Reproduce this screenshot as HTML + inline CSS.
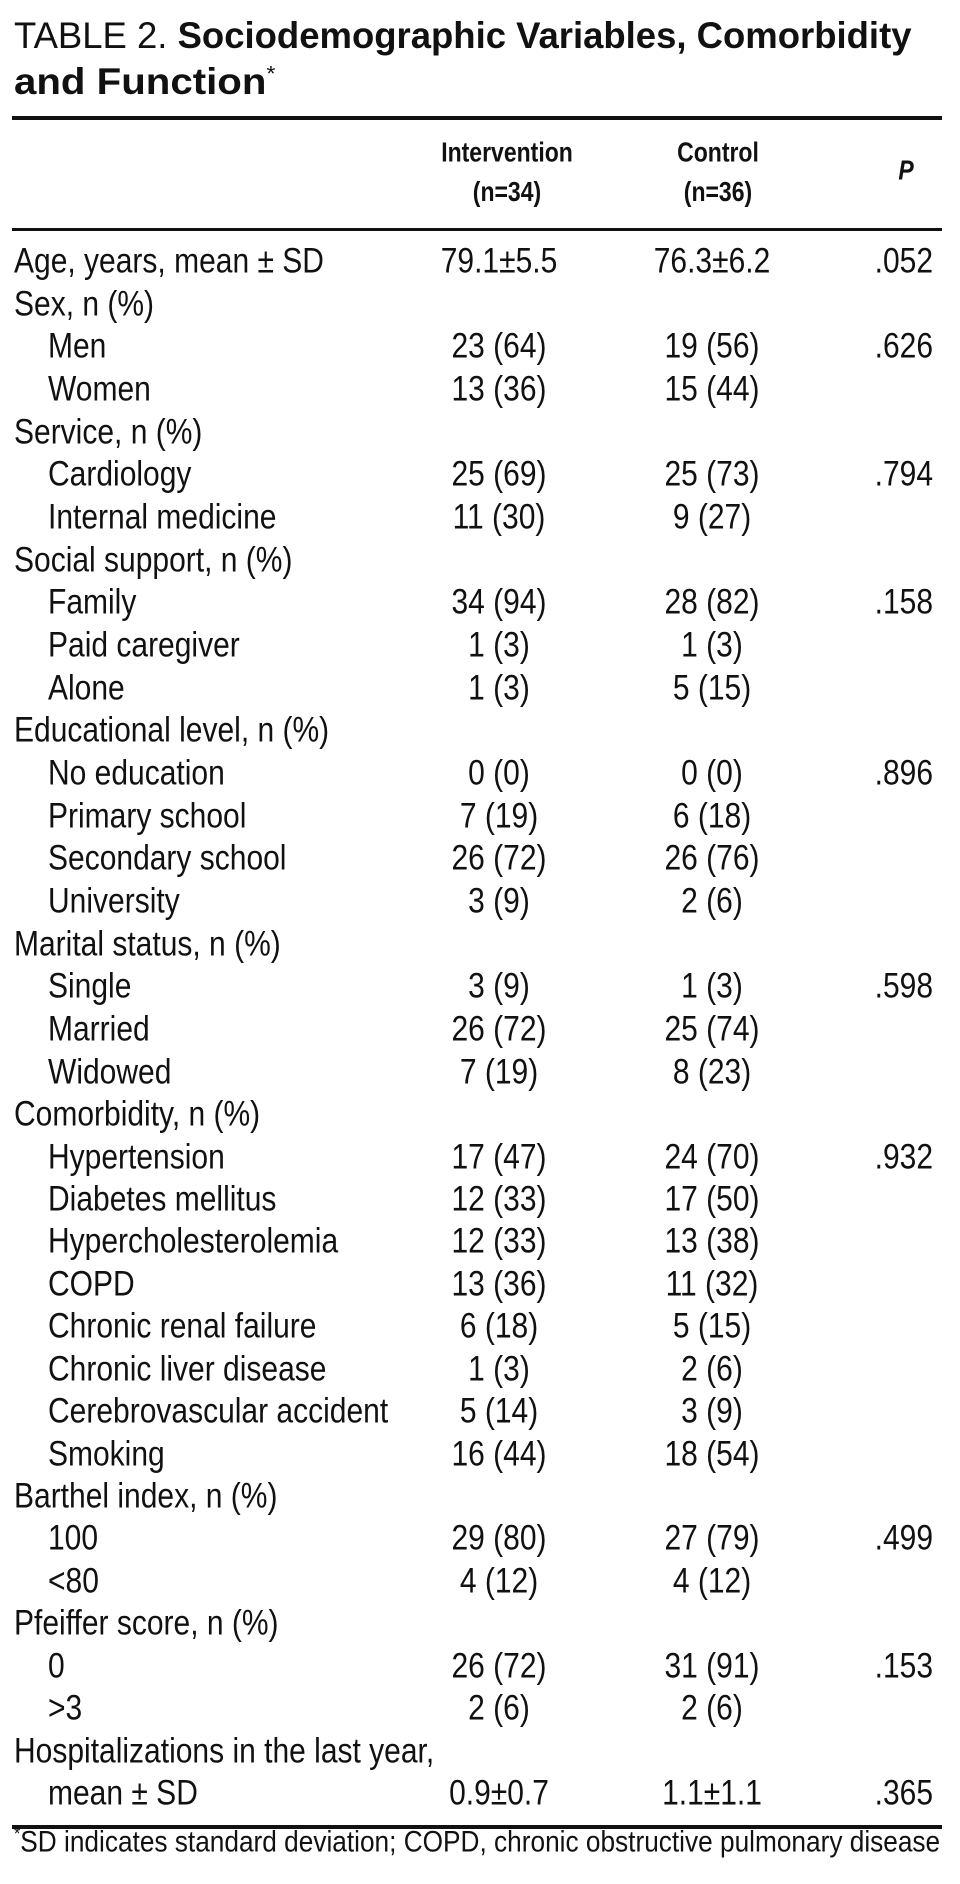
<!DOCTYPE html>
<html><head><meta charset="utf-8">
<style>
html,body{margin:0;padding:0;background:#fff;}
body{width:960px;height:1884px;position:relative;overflow:hidden;font-family:"Liberation Sans",sans-serif;color:#111;}
.t{position:absolute;left:14px;font-size:31px;white-space:nowrap;line-height:44px;transform-origin:left center;}
.rule{position:absolute;left:12px;width:930px;background:#111;}
.row{position:absolute;left:0;width:960px;height:42px;line-height:42px;font-size:30px;}
.row span{position:absolute;white-space:nowrap;display:inline-block;transform:scaleY(1.18);}
.l{left:14px;}
.l.i{left:48px;}
.a{left:399px;width:200px;text-align:center;}
.b{left:612px;width:200px;text-align:center;}
.p{right:27px;text-align:right;}
.h{position:absolute;font-weight:bold;font-size:23px;text-align:center;width:200px;transform:scaleY(1.2);}
.fn{position:absolute;left:14px;top:1826px;font-size:26px;white-space:nowrap;transform-origin:left center;transform:scaleY(1.15);}
</style></head><body>
<div class="t" style="top:14px" id="t1">TABLE 2. <b>Sociodemographic Variables, Comorbidity</b></div>
<div class="t" style="top:52px" id="t2"><b>and Function</b><sup style="font-size:18px">*</sup></div>
<div class="rule" style="top:116px;height:4px"></div>
<div class="h" style="left:407px;top:143px;line-height:26px">Intervention<br><span style="line-height:40px">(n=34)</span></div>
<div class="h" style="left:618px;top:143px;line-height:26px">Control<br><span style="line-height:40px">(n=36)</span></div>
<div class="h" style="left:806px;top:157px;font-style:italic">P</div>
<div class="rule" style="top:228px;height:3px"></div>

<div class="row" style="top:241px"><span class="l">Age, years, mean ± SD</span><span class="a">79.1±5.5</span><span class="b">76.3±6.2</span><span class="p">.052</span></div>
<div class="row" style="top:284px"><span class="l">Sex, n (%)</span></div>
<div class="row" style="top:326px"><span class="l i">Men</span><span class="a">23 (64)</span><span class="b">19 (56)</span><span class="p">.626</span></div>
<div class="row" style="top:369px"><span class="l i">Women</span><span class="a">13 (36)</span><span class="b">15 (44)</span></div>
<div class="row" style="top:412px"><span class="l">Service, n (%)</span></div>
<div class="row" style="top:454px"><span class="l i">Cardiology</span><span class="a">25 (69)</span><span class="b">25 (73)</span><span class="p">.794</span></div>
<div class="row" style="top:497px"><span class="l i">Internal medicine</span><span class="a">11 (30)</span><span class="b">9 (27)</span></div>
<div class="row" style="top:540px"><span class="l">Social support, n (%)</span></div>
<div class="row" style="top:582px"><span class="l i">Family</span><span class="a">34 (94)</span><span class="b">28 (82)</span><span class="p">.158</span></div>
<div class="row" style="top:625px"><span class="l i">Paid caregiver</span><span class="a">1 (3)</span><span class="b">1 (3)</span></div>
<div class="row" style="top:668px"><span class="l i">Alone</span><span class="a">1 (3)</span><span class="b">5 (15)</span></div>
<div class="row" style="top:710px"><span class="l">Educational level, n (%)</span></div>
<div class="row" style="top:753px"><span class="l i">No education</span><span class="a">0 (0)</span><span class="b">0 (0)</span><span class="p">.896</span></div>
<div class="row" style="top:796px"><span class="l i">Primary school</span><span class="a">7 (19)</span><span class="b">6 (18)</span></div>
<div class="row" style="top:838px"><span class="l i">Secondary school</span><span class="a">26 (72)</span><span class="b">26 (76)</span></div>
<div class="row" style="top:881px"><span class="l i">University</span><span class="a">3 (9)</span><span class="b">2 (6)</span></div>
<div class="row" style="top:924px"><span class="l">Marital status, n (%)</span></div>
<div class="row" style="top:966px"><span class="l i">Single</span><span class="a">3 (9)</span><span class="b">1 (3)</span><span class="p">.598</span></div>
<div class="row" style="top:1009px"><span class="l i">Married</span><span class="a">26 (72)</span><span class="b">25 (74)</span></div>
<div class="row" style="top:1052px"><span class="l i">Widowed</span><span class="a">7 (19)</span><span class="b">8 (23)</span></div>
<div class="row" style="top:1094px"><span class="l">Comorbidity, n (%)</span></div>
<div class="row" style="top:1137px"><span class="l i">Hypertension</span><span class="a">17 (47)</span><span class="b">24 (70)</span><span class="p">.932</span></div>
<div class="row" style="top:1179px"><span class="l i">Diabetes mellitus</span><span class="a">12 (33)</span><span class="b">17 (50)</span></div>
<div class="row" style="top:1221px"><span class="l i">Hypercholesterolemia</span><span class="a">12 (33)</span><span class="b">13 (38)</span></div>
<div class="row" style="top:1264px"><span class="l i">COPD</span><span class="a">13 (36)</span><span class="b">11 (32)</span></div>
<div class="row" style="top:1306px"><span class="l i">Chronic renal failure</span><span class="a">6 (18)</span><span class="b">5 (15)</span></div>
<div class="row" style="top:1349px"><span class="l i">Chronic liver disease</span><span class="a">1 (3)</span><span class="b">2 (6)</span></div>
<div class="row" style="top:1391px"><span class="l i">Cerebrovascular accident</span><span class="a">5 (14)</span><span class="b">3 (9)</span></div>
<div class="row" style="top:1434px"><span class="l i">Smoking</span><span class="a">16 (44)</span><span class="b">18 (54)</span></div>
<div class="row" style="top:1476px"><span class="l">Barthel index, n (%)</span></div>
<div class="row" style="top:1518px"><span class="l i">100</span><span class="a">29 (80)</span><span class="b">27 (79)</span><span class="p">.499</span></div>
<div class="row" style="top:1561px"><span class="l i">&lt;80</span><span class="a">4 (12)</span><span class="b">4 (12)</span></div>
<div class="row" style="top:1603px"><span class="l">Pfeiffer score, n (%)</span></div>
<div class="row" style="top:1646px"><span class="l i">0</span><span class="a">26 (72)</span><span class="b">31 (91)</span><span class="p">.153</span></div>
<div class="row" style="top:1688px"><span class="l i">&gt;3</span><span class="a">2 (6)</span><span class="b">2 (6)</span></div>
<div class="row" style="top:1731px"><span class="l">Hospitalizations in the last year,</span></div>
<div class="row" style="top:1773px"><span class="l i">mean ± SD</span><span class="a">0.9±0.7</span><span class="b">1.1±1.1</span><span class="p">.365</span></div>

<div class="rule" style="top:1825px;height:4px"></div>
<div class="fn" id="fn"><sup style="font-size:16px">*</sup>SD indicates standard deviation; COPD, chronic obstructive pulmonary disease</div>
<script>
function fit(id,w,sy){var e=document.getElementById(id);var r=e.scrollWidth;if(r>0){e.style.transform='scale('+(w/r)+','+sy+')';}}
fit('t1',898,1.2);
fit('t2',262,1.2);
fit('fn',926,1.15);
</script>
</body></html>
